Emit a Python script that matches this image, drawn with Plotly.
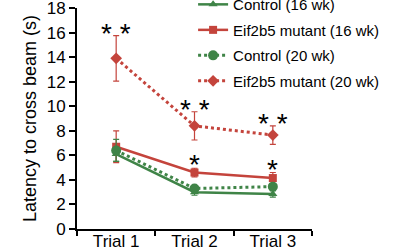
import plotly.graph_objects as go

trials = ["Trial 1", "Trial 2", "Trial 3"]

ctrl16 = [6.1, 3.0, 2.85]
ctrl16_err = [0.6, 0.25, 0.25]
mut16 = [6.7, 4.6, 4.15]
mut16_err = [1.3, 0.35, 0.45]
ctrl20 = [6.4, 3.3, 3.45]
ctrl20_err = [0.9, 0.2, 0.25]
mut20 = [13.9, 8.4, 7.65]
mut20_err = [1.85, 1.15, 0.75]

sig_mut20 = ["* *", "* *", "* *"]
sig_mut16 = ["", "*", "*"]

GREEN = "#3f8447"
RED = "#c4443c"
FONT = "Liberation Sans, Arial, sans-serif"

fig = go.Figure()

def add(name, y, err, color, dash, symbol, size, group):
    fig.add_trace(go.Scatter(
        x=trials, y=y, name=name, mode="lines+markers",
        legendgroup=group,
        line=dict(color=color, width=3 if dash else 2.5, dash=dash or "solid"),
        marker=dict(color=color, symbol=symbol, size=size),
        error_y=dict(type="data", array=err, visible=True, color=color,
                     thickness=1.2, width=3),
    ))

add("Control (16 wk)", ctrl16, ctrl16_err, GREEN, None, "triangle-up", 8, "a")
add("Eif2b5 mutant (16 wk)", mut16, mut16_err, RED, None, "square", 8, "b")
add("Control (20 wk)", ctrl20, ctrl20_err, GREEN, "dot", "circle", 10, "c")
add("Eif2b5 mutant (20 wk)", mut20, mut20_err, RED, "dot", "diamond", 9, "d")

annotations = []
for t, m, e, s in zip(trials, mut20, mut20_err, sig_mut20):
    if s:
        annotations.append(dict(x=t, y=m + e, text=s, showarrow=False,
                                yanchor="bottom", yshift=-15,
                                font=dict(size=28, color="black", family=FONT)))
for t, m, e, s in zip(trials, mut16, mut16_err, sig_mut16):
    if s:
        annotations.append(dict(x=t, y=m + e, text=s, showarrow=False,
                                yanchor="bottom", yshift=-14,
                                font=dict(size=28, color="black", family=FONT)))

fig.update_layout(
    width=400, height=250,
    margin=dict(l=77, r=88, t=8, b=21, autoexpand=False),
    paper_bgcolor="white", plot_bgcolor="white",
    font=dict(family=FONT, color="black"),
    showlegend=True,
    legend=dict(x=0.494, xanchor="left", y=1.09, yanchor="top",
                bgcolor="rgba(0,0,0,0)", borderwidth=0,
                font=dict(size=15, family=FONT),
                tracegroupgap=3, traceorder="grouped"),
    annotations=annotations,
)
fig.update_xaxes(
    range=[-0.5, 2.5], showline=True, linecolor="black", linewidth=2,
    ticks="outside", tickson="boundaries", ticklen=5, tickwidth=1.5,
    tickcolor="black", showgrid=False, zeroline=False,
    tickfont=dict(size=17, family=FONT), automargin=False,
    ticklabelstandoff=-4,
)
fig.update_yaxes(
    range=[0, 18], dtick=2, showline=True, linecolor="black", linewidth=2,
    ticks="outside", ticklen=6, tickwidth=1.5, tickcolor="black",
    showgrid=False, zeroline=False, ticklabeloverflow="allow",
    tickfont=dict(size=17, family=FONT), automargin=False,
    title=dict(text="Latency to cross beam (s)", font=dict(size=18, family=FONT),
               standoff=5),
)

fig.write_html("out.html")
